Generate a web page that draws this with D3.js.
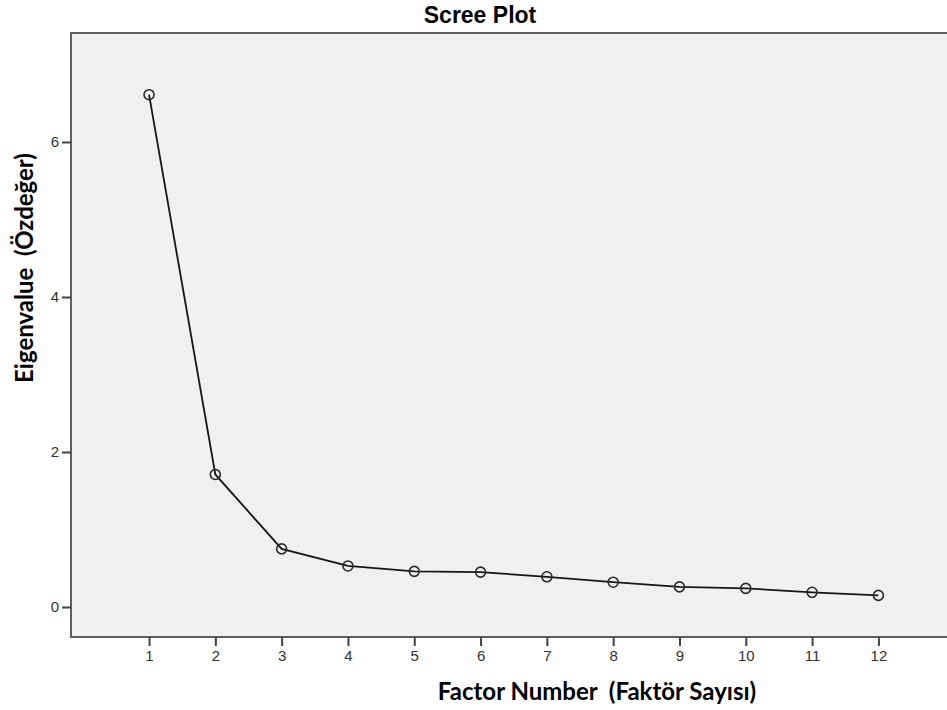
<!DOCTYPE html>
<html>
<head>
<meta charset="utf-8">
<script src="https://cdn.jsdelivr.net/npm/d3@7"></script>
<style>
  html, body { margin: 0; padding: 0; background: #fff; }
  svg { display: block; }
</style>
</head>
<body>
<svg id="chart" width="947" height="710"></svg>
<script>
const factors = [1, 2, 3, 4, 5, 6, 7, 8, 9, 10, 11, 12];
const eigenvalues = [6.61, 1.71, 0.75, 0.53, 0.46, 0.45, 0.39, 0.32, 0.26, 0.24, 0.19, 0.15];
const yTicks = [0, 2, 4, 6];
const xTicks = [1, 2, 3, 4, 5, 6, 7, 8, 9, 10, 11, 12];
const titleText = "Scree Plot";
const xLabelParts = ["Factor Number", "(Faktör Sayısı)"];
const yLabelParts = ["Eigenvalue", "(Özdeğer)"];

const svg = d3.select("#chart");
const W = 947, H = 710;
const plot = { left: 71, top: 33, right: 952, bottom: 637 };

const x = d3.scaleLinear().domain([-0.177, 13.11]).range([plot.left, plot.right]);
const y = d3.scaleLinear().domain([-0.387, 7.406]).range([plot.bottom, plot.top]);

// plot background
svg.append("rect")
  .attr("x", plot.left).attr("y", plot.top)
  .attr("width", plot.right - plot.left).attr("height", plot.bottom - plot.top)
  .attr("fill", "#f0f0f0")
  .attr("stroke", "#5e5e5e").attr("stroke-width", 2);

// axes
const xAxis = d3.axisBottom(x).tickValues(xTicks).tickSize(9).tickPadding(4).tickFormat(d3.format("d"));
const yAxis = d3.axisLeft(y).tickValues(yTicks).tickSize(9).tickPadding(3).tickFormat(d3.format("d"));

const gx = svg.append("g").attr("transform", `translate(0,${plot.bottom})`).call(xAxis);
const gy = svg.append("g").attr("transform", `translate(${plot.left},0)`).call(yAxis);
[gx, gy].forEach(g => {
  g.select(".domain").remove();
  g.selectAll(".tick line").attr("stroke", "#444").attr("stroke-width", 2);
  g.selectAll(".tick text")
    .attr("fill", "#333")
    .style("font-family", "'Liberation Sans', Arial, sans-serif")
    .style("font-size", "15px");
});

// line
const line = d3.line().x((d, i) => x(factors[i])).y(d => y(d));
svg.append("path")
  .datum(eigenvalues)
  .attr("d", line)
  .attr("fill", "none")
  .attr("stroke", "#151515")
  .attr("stroke-width", 1.8);

// points
svg.append("g").selectAll("circle")
  .data(eigenvalues)
  .join("circle")
  .attr("cx", (d, i) => x(factors[i]))
  .attr("cy", d => y(d))
  .attr("r", 5)
  .attr("fill", "none")
  .attr("stroke", "#2a2a2a")
  .attr("stroke-width", 1.6);

// title
svg.append("text")
  .attr("x", 480).attr("y", 23)
  .attr("text-anchor", "middle")
  .style("font-family", "'Liberation Sans', Arial, sans-serif")
  .style("font-weight", "bold")
  .style("font-size", "23px")
  .attr("fill", "#000")
  .text(titleText);

// x label
svg.append("text")
  .attr("x", 597).attr("y", 700)
  .attr("text-anchor", "middle")
  .style("font-family", "Lato, 'Open Sans', sans-serif")
  .style("font-weight", "bold")
  .style("font-size", "24px")
  .style("white-space", "pre")
  .attr("fill", "#000")
  .text(xLabelParts.join("  "));

// y label
svg.append("text")
  .attr("transform", "translate(33,268) rotate(-90)")
  .attr("text-anchor", "middle")
  .style("font-family", "Lato, 'Open Sans', sans-serif")
  .style("font-weight", "bold")
  .style("font-size", "24px")
  .style("white-space", "pre")
  .attr("fill", "#000")
  .text(yLabelParts.join("  "));
</script>
</body>
</html>
